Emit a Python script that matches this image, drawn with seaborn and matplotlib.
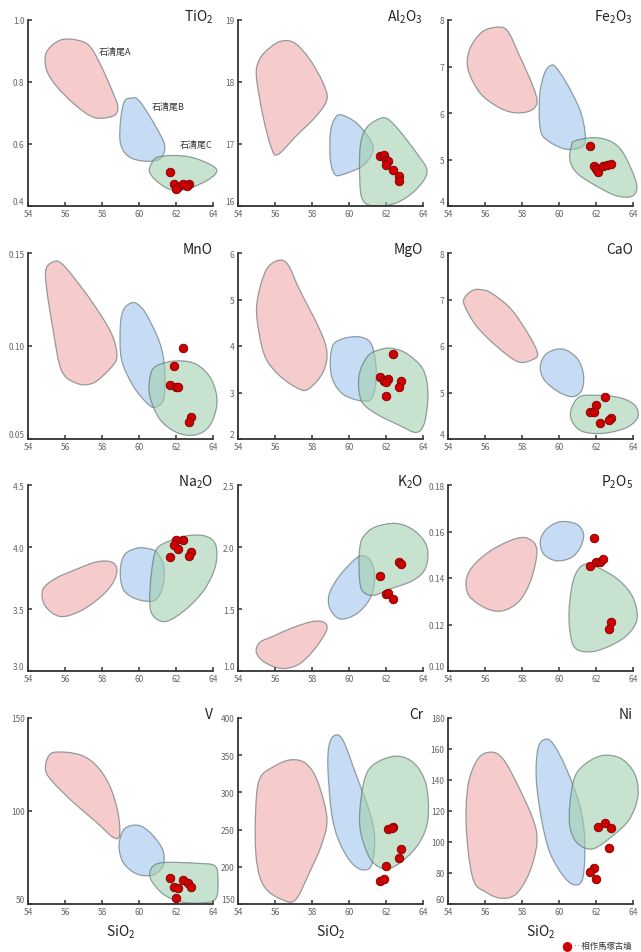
import numpy as np
import matplotlib
matplotlib.use('Agg')
import matplotlib.pyplot as plt
from matplotlib.path import Path
from matplotlib.patches import PathPatch
import seaborn as sns

sns.set_style('ticks')
plt.rcParams['font.family'] = ['Noto Sans CJK JP', 'DejaVu Sans']
plt.rcParams['mathtext.default'] = 'regular'

# 各元素の範囲 (SiO2, 値) と 相作馬塚古墳 の分析値
tio2_A = [(54.99, .895), (55.62, .932), (56.34, .938), (57.24, .921), (57.87, .862), (58.59, .766),
          (58.86, .717), (58.59, .690), (57.60, .685), (56.61, .723), (55.53, .787), (54.99, .841)]
tio2_B = [(59.68, .749), (59.23, .739), (59.01, .680), (58.99, .604), (59.41, .561), (60.22, .545),
          (61.12, .551), (61.39, .594), (60.94, .653), (60.22, .723), (59.89, .746)]
tio2_C = [(60.61, .529), (60.94, .556), (61.84, .563), (62.92, .556), (64.0, .529), (64.18, .508),
          (63.64, .481), (62.56, .454), (61.66, .454), (60.94, .481), (60.58, .508)]
tio2_x = [61.7, 61.9, 62.1, 62.0, 62.4, 62.7, 62.6]
tio2_y = [0.51, 0.47, 0.46, 0.455, 0.47, 0.47, 0.465]

al2o3_A = [(56.34, 18.66), (57.06, 18.63), (57.87, 18.37), (58.59, 17.99), (58.81, 17.72), (58.23, 17.45),
           (57.15, 17.13), (56.16, 16.83), (55.80, 16.94), (55.35, 17.45), (54.99, 18.10), (55.17, 18.37),
           (55.71, 18.55)]
al2o3_B = [(59.59, 17.47), (59.23, 17.41), (58.99, 17.18), (58.99, 16.75), (59.23, 16.51), (59.68, 16.51),
           (60.76, 16.65), (61.30, 16.89), (61.12, 17.08), (60.40, 17.34)]
al2o3_C = [(61.66, 17.41), (60.94, 17.26), (60.61, 16.97), (60.58, 16.43), (60.72, 16.11), (61.30, 16.0),
           (62.56, 16.05), (63.64, 16.27), (64.22, 16.56), (63.64, 16.86), (62.74, 17.21), (62.11, 17.40)]
al2o3_x = [61.7, 61.9, 62.0, 62.1, 62.0, 62.4, 62.7, 62.7]
al2o3_y = [16.80, 16.82, 16.74, 16.72, 16.66, 16.58, 16.49, 16.40]

fe2o3_A = [(56.52, 7.84), (57.19, 7.78), (57.87, 7.23), (58.59, 6.58), (58.81, 6.22), (58.41, 6.04),
           (57.51, 6.01), (56.61, 6.15), (55.71, 6.44), (55.08, 6.94), (55.17, 7.37), (55.80, 7.73)]
fe2o3_B = [(59.59, 7.03), (59.23, 6.87), (58.95, 6.37), (58.99, 5.65), (59.41, 5.40), (60.40, 5.22),
           (61.30, 5.29), (61.41, 5.58), (61.12, 6.08), (60.40, 6.65), (59.86, 6.97)]
fe2o3_C = [(60.85, 5.40), (61.84, 5.47), (62.74, 5.40), (63.46, 5.15), (64.18, 4.50), (64.0, 4.22),
           (63.1, 4.22), (61.84, 4.47), (60.94, 4.72), (60.58, 5.0), (60.67, 5.29)]
fe2o3_x = [61.7, 61.9, 62.0, 62.1, 62.4, 62.6, 62.8]
fe2o3_y = [5.30, 4.85, 4.80, 4.73, 4.86, 4.88, 4.90]

mno_A = [(55.44, .1455), (54.99, .142), (54.99, .132), (55.35, .109), (55.80, .087), (56.61, .080),
         (57.51, .080), (58.41, .0875), (58.81, .0945), (58.50, .107), (57.51, .123), (56.43, .1375),
         (55.80, .1445)]
mno_B = [(59.59, .1232), (59.17, .1196), (58.99, .1107), (59.05, .0929), (59.68, .0786), (60.40, .0696),
         (60.85, .0670), (61.33, .0714), (61.39, .0875), (61.12, .1018), (60.40, .117), (59.95, .1223)]
mno_C = [(60.94, .0893), (62.02, .0920), (63.10, .0902), (63.91, .0821), (64.22, .0696), (63.82, .0571),
         (63.01, .0521), (62.02, .0536), (61.12, .0607), (60.58, .0732), (60.61, .0839)]
mno_x = [62.4, 61.9, 61.7, 62.0, 62.1, 62.8, 62.7]
mno_y = [0.099, 0.089, 0.079, 0.078, 0.078, 0.062, 0.059]

mgo_A = [(56.16, 5.84), (55.53, 5.64), (55.08, 5.07), (55.03, 4.57), (55.44, 3.79), (56.25, 3.36),
         (57.33, 3.07), (57.87, 3.09), (58.59, 3.43), (58.81, 3.86), (58.41, 4.36), (57.33, 5.21),
         (56.70, 5.75)]
mgo_B = [(59.23, 4.07), (60.22, 4.20), (61.03, 4.13), (61.35, 3.86), (61.48, 3.36), (61.26, 2.89),
         (60.67, 2.82), (59.68, 2.96), (59.10, 3.29), (58.99, 3.71)]
mgo_C = [(61.84, 3.94), (61.03, 3.79), (60.54, 3.36), (60.67, 2.82), (61.48, 2.54), (62.74, 2.29),
         (63.64, 2.14), (64.09, 2.36), (64.27, 3.00), (64.0, 3.50), (63.19, 3.82), (62.47, 3.94)]
mgo_x = [62.4, 61.7, 61.9, 62.1, 62.0, 62.8, 62.7, 62.0]
mgo_y = [3.82, 3.33, 3.25, 3.30, 2.93, 3.25, 3.12, 3.22]

cao_A = [(55.35, 7.20), (54.90, 7.04), (54.90, 6.86), (55.53, 6.43), (56.61, 6.00), (57.78, 5.66),
         (58.59, 5.71), (58.84, 5.84), (58.41, 6.21), (57.42, 6.79), (56.34, 7.14), (55.80, 7.21)]
cao_B = [(59.86, 5.93), (59.28, 5.82), (58.99, 5.57), (59.17, 5.29), (59.86, 5.04), (60.67, 4.91),
         (61.21, 5.03), (61.33, 5.37), (61.03, 5.71), (60.40, 5.91)]
cao_C = [(61.12, 4.91), (62.02, 4.94), (63.28, 4.89), (64.09, 4.73), (64.27, 4.48), (63.73, 4.26),
         (62.74, 4.14), (61.84, 4.12), (61.12, 4.19), (60.67, 4.41), (60.67, 4.66)]
cao_x = [62.5, 62.0, 61.7, 61.9, 62.2, 62.8, 62.7]
cao_y = [4.91, 4.73, 4.59, 4.57, 4.34, 4.45, 4.41]

na2o_A = [(54.81, 3.66), (54.90, 3.53), (55.71, 3.44), (56.79, 3.48), (57.87, 3.59), (58.59, 3.71),
          (58.81, 3.82), (58.50, 3.88), (57.69, 3.88), (56.61, 3.82), (55.53, 3.75)]
na2o_B = [(59.86, 3.99), (59.23, 3.94), (58.99, 3.82), (59.14, 3.66), (59.86, 3.58), (60.85, 3.57),
          (61.30, 3.69), (61.33, 3.85), (60.94, 3.96), (60.40, 3.99)]
na2o_C = [(61.66, 4.05), (60.94, 3.98), (60.67, 3.79), (60.58, 3.55), (60.79, 3.44), (61.48, 3.40),
          (62.56, 3.50), (63.55, 3.66), (64.14, 3.85), (64.14, 4.02), (63.55, 4.09), (62.56, 4.09)]
na2o_x = [62.4, 62.0, 61.9, 62.1, 61.7, 62.8, 62.7]
na2o_y = [4.06, 4.06, 4.02, 3.98, 3.92, 3.96, 3.93]

k2o_A = [(55.17, 1.23), (54.99, 1.15), (55.44, 1.07), (56.34, 1.02), (57.24, 1.05), (58.05, 1.16),
         (58.77, 1.32), (58.68, 1.39), (58.05, 1.40), (56.97, 1.35), (55.89, 1.28)]
k2o_B = [(60.76, 1.93), (60.31, 1.90), (59.50, 1.77), (58.95, 1.63), (58.95, 1.51), (59.50, 1.42),
         (60.40, 1.46), (61.12, 1.58), (61.39, 1.74), (61.21, 1.88)]
k2o_C = [(60.76, 2.08), (61.39, 2.16), (62.56, 2.19), (63.55, 2.13), (64.22, 2.0), (64.14, 1.83),
         (63.46, 1.73), (62.20, 1.66), (61.30, 1.61), (60.67, 1.66), (60.54, 1.85), (60.58, 1.99)]
k2o_x = [61.7, 62.7, 62.8, 62.0, 62.1, 62.4]
k2o_y = [1.77, 1.88, 1.86, 1.62, 1.63, 1.58]

p2o5_A = [(54.99, .1395), (55.14, .1323), (56.07, .1269), (56.97, .1259), (57.87, .1302), (58.50, .1395),
          (58.81, .1517), (58.41, .1567), (57.69, .1570), (56.43, .1524), (55.44, .1460)]
p2o5_B = [(59.32, .1610), (58.99, .1560), (59.17, .1503), (59.86, .1474), (60.67, .1488), (61.15, .1531),
          (61.33, .1589), (60.94, .1632), (60.04, .1642)]
p2o5_C = [(60.94, .1424), (61.44, .1460), (62.29, .1438), (63.28, .1388), (64.0, .1316), (64.22, .1223),
          (63.64, .1151), (62.56, .1101), (61.57, .1082), (60.79, .1108), (60.54, .1223), (60.67, .1352)]
p2o5_x = [61.9, 61.7, 62.0, 62.2, 62.4, 62.8, 62.7]
p2o5_y = [0.157, 0.145, 0.147, 0.147, 0.148, 0.121, 0.118]

v_A = [(55.53, 131.7), (55.08, 129.0), (54.95, 121.8), (55.35, 115.5), (56.43, 104.8), (57.69, 94.0),
       (58.59, 85.9), (58.95, 86.8), (58.86, 99.4), (58.41, 113.7), (57.69, 124.5), (56.79, 130.3)]
v_B = [(59.59, 92.2), (59.14, 89.5), (58.92, 81.4), (59.14, 72.4), (59.86, 66.2), (60.76, 65.6),
       (61.30, 70.6), (61.30, 78.7), (60.76, 86.8), (60.13, 91.8)]
v_C = [(60.94, 71.5), (61.66, 72.4), (63.10, 71.9), (64.09, 70.6), (64.27, 63.5), (64.14, 52.7),
       (63.28, 50.5), (62.20, 51.3), (61.30, 55.4), (60.67, 62.6), (60.61, 68.0)]
v_x = [61.7, 62.4, 61.9, 62.1, 62.65, 62.8, 62.0]
v_y = [64.0, 63.1, 59.0, 58.4, 61.3, 59.0, 53.1]

cr_A = [(55.98, 335.4), (56.88, 343.9), (57.69, 338.5), (58.32, 313.8), (58.81, 264.5), (58.50, 228.5),
        (57.87, 192.6), (57.15, 156.7), (56.52, 154.5), (55.44, 172.4), (54.99, 210.6), (54.95, 273.4),
        (55.17, 318.3)]
cr_B = [(59.23, 376.7), (58.92, 363.2), (58.86, 331.8), (59.05, 273.4), (59.41, 237.5), (60.04, 208.3),
        (60.67, 196.2), (61.21, 201.6), (61.39, 237.5), (61.12, 273.4), (60.40, 322.8), (59.68, 369.9)]
cr_C = [(60.85, 318.3), (61.39, 338.5), (62.56, 348.8), (63.55, 338.5), (64.18, 309.3), (64.27, 264.5),
        (63.82, 233.0), (62.92, 208.3), (62.02, 197.1), (61.21, 208.3), (60.67, 242.0), (60.58, 273.4)]
cr_x = [62.1, 62.4, 62.3, 62.8, 62.7, 62.0, 61.7, 61.9]
cr_y = [251, 253, 252, 224, 212, 201, 181, 184]

ni_A = [(56.34, 158.0), (55.62, 153.7), (55.08, 136.5), (54.99, 108.5), (55.35, 76.2), (56.07, 67.5),
        (56.88, 63.7), (57.69, 66.5), (58.41, 80.5), (58.81, 99.9), (58.59, 114.9), (57.69, 138.6),
        (56.97, 153.7)]
ni_B = [(59.23, 166.2), (58.86, 160.2), (58.77, 140.8), (59.05, 114.9), (59.50, 93.4), (60.22, 78.3),
        (60.85, 72.3), (61.30, 77.2), (61.39, 102.0), (61.12, 123.6), (60.40, 147.3), (59.68, 163.4)]
ni_C = [(60.85, 141.9), (61.48, 150.9), (62.38, 155.9), (63.37, 153.7), (64.09, 144.0), (64.27, 130.0),
        (63.82, 114.9), (62.92, 104.2), (61.84, 95.6), (61.03, 98.8), (60.61, 108.5), (60.58, 123.6)]
ni_x = [62.1, 62.5, 62.8, 62.7, 61.9, 61.7, 62.0]
ni_y = [110.0, 112.4, 109.1, 96.2, 83.3, 80.5, 76.2]

panels = [
    (r'TiO$_2$', tio2_A, tio2_B, tio2_C, tio2_x, tio2_y, [0.4, 0.6, 0.8, 1.0], '{:.1f}'),
    (r'Al$_2$O$_3$', al2o3_A, al2o3_B, al2o3_C, al2o3_x, al2o3_y, [16, 17, 18, 19], '{:.0f}'),
    (r'Fe$_2$O$_3$', fe2o3_A, fe2o3_B, fe2o3_C, fe2o3_x, fe2o3_y, [4, 5, 6, 7, 8], '{:.0f}'),
    ('MnO', mno_A, mno_B, mno_C, mno_x, mno_y, [0.05, 0.10, 0.15], '{:.2f}'),
    ('MgO', mgo_A, mgo_B, mgo_C, mgo_x, mgo_y, [2, 3, 4, 5, 6], '{:.0f}'),
    ('CaO', cao_A, cao_B, cao_C, cao_x, cao_y, [4, 5, 6, 7, 8], '{:.0f}'),
    (r'Na$_2$O', na2o_A, na2o_B, na2o_C, na2o_x, na2o_y, [3.0, 3.5, 4.0, 4.5], '{:.1f}'),
    (r'K$_2$O', k2o_A, k2o_B, k2o_C, k2o_x, k2o_y, [1.0, 1.5, 2.0, 2.5], '{:.1f}'),
    (r'P$_2$O$_5$', p2o5_A, p2o5_B, p2o5_C, p2o5_x, p2o5_y, [0.10, 0.12, 0.14, 0.16, 0.18], '{:.2f}'),
    ('V', v_A, v_B, v_C, v_x, v_y, [50, 100, 150], '{:.0f}'),
    ('Cr', cr_A, cr_B, cr_C, cr_x, cr_y, [150, 200, 250, 300, 350, 400], '{:.0f}'),
    ('Ni', ni_A, ni_B, ni_C, ni_x, ni_y, [60, 80, 100, 120, 140, 160, 180], '{:.0f}'),
]

x_ticks = [54, 56, 58, 60, 62, 64]
fills = ['#f0a9a9', '#9fc5ee', '#a3cfae']
edge = '#56676a'


def blob(ax, pts, color):
    # 閉じた滑らかな輪郭 (Catmull-Rom -> Bezier)
    p = np.array(pts, dtype=float)
    n = len(p)
    verts = [p[0]]
    codes = [Path.MOVETO]
    for i in range(n):
        p0, p1, p2, p3 = p[i - 1], p[i], p[(i + 1) % n], p[(i + 2) % n]
        verts += [p1 + (p2 - p0) / 6, p2 - (p3 - p1) / 6, p2]
        codes += [Path.CURVE4] * 3
    patch = PathPatch(Path(verts, codes), facecolor=color, edgecolor=edge,
                      lw=0.9, alpha=0.6, clip_on=False)
    ax.add_patch(patch)


fig = plt.figure(figsize=(6.41, 9.53), dpi=100)
lefts = [28, 238, 448]
bottoms = [207, 440, 672, 905]
W, H = 641, 953

for k, (name, A, B, C, px, py, yt, fmt) in enumerate(panels):
    r, c = divmod(k, 3)
    ax = fig.add_axes([lefts[c] / W, 1 - bottoms[r] / H, 185 / W, 186 / H])
    for pts, col in zip([A, B, C], fills):
        blob(ax, pts, col)
    sns.scatterplot(x=px, y=py, ax=ax, s=38, color='#d10000', edgecolor='#7a0000',
                    linewidth=0.6, zorder=5, clip_on=False)
    ax.set_xlim(54, 64)
    ax.set_ylim(yt[0], yt[-1])
    ax.set_xticks(x_ticks)
    ax.set_xticklabels([str(t) for t in x_ticks])
    ax.set_yticks(yt)
    ax.set_yticklabels([fmt.format(t) for t in yt])
    for s in ['top', 'right']:
        ax.spines[s].set_visible(False)
    for s in ['left', 'bottom']:
        ax.spines[s].set_color('#333333')
        ax.spines[s].set_linewidth(1.3)
    ax.tick_params(direction='in', length=3, width=1.1, color='#333333',
                   labelsize=6, labelcolor='#666666')
    ax.tick_params(axis='x', pad=2)
    ax.tick_params(axis='y', pad=2.5)
    # 原点付近のラベルを少し上へ
    ax.get_yticklabels()[0].set_va('bottom')
    ax.text(1.0, 1.02, name, transform=ax.transAxes, ha='right', va='center',
            fontsize=10, color='#222222')
    if r == 3:
        ax.set_xlabel(r'SiO$_2$', fontsize=10, color='#222222', labelpad=5)
    if k == 0:
        ax.text(57.8, 0.90, '石清尾A', fontsize=6.5, color='#333333', va='center')
        ax.text(60.7, 0.72, '石清尾B', fontsize=6.5, color='#333333', va='center')
        ax.text(62.2, 0.598, '石清尾C', fontsize=6.5, color='#333333', va='center')

fig.text(567 / W, 1 - 946 / H, '●', color='#d10000', fontsize=9, ha='center', va='center',
         family=['DejaVu Sans'])
fig.text(573 / W, 1 - 946 / H, '…相作馬塚古墳', color='#333333', fontsize=6, ha='left', va='center')

fig.savefig('out.png', dpi=100)
